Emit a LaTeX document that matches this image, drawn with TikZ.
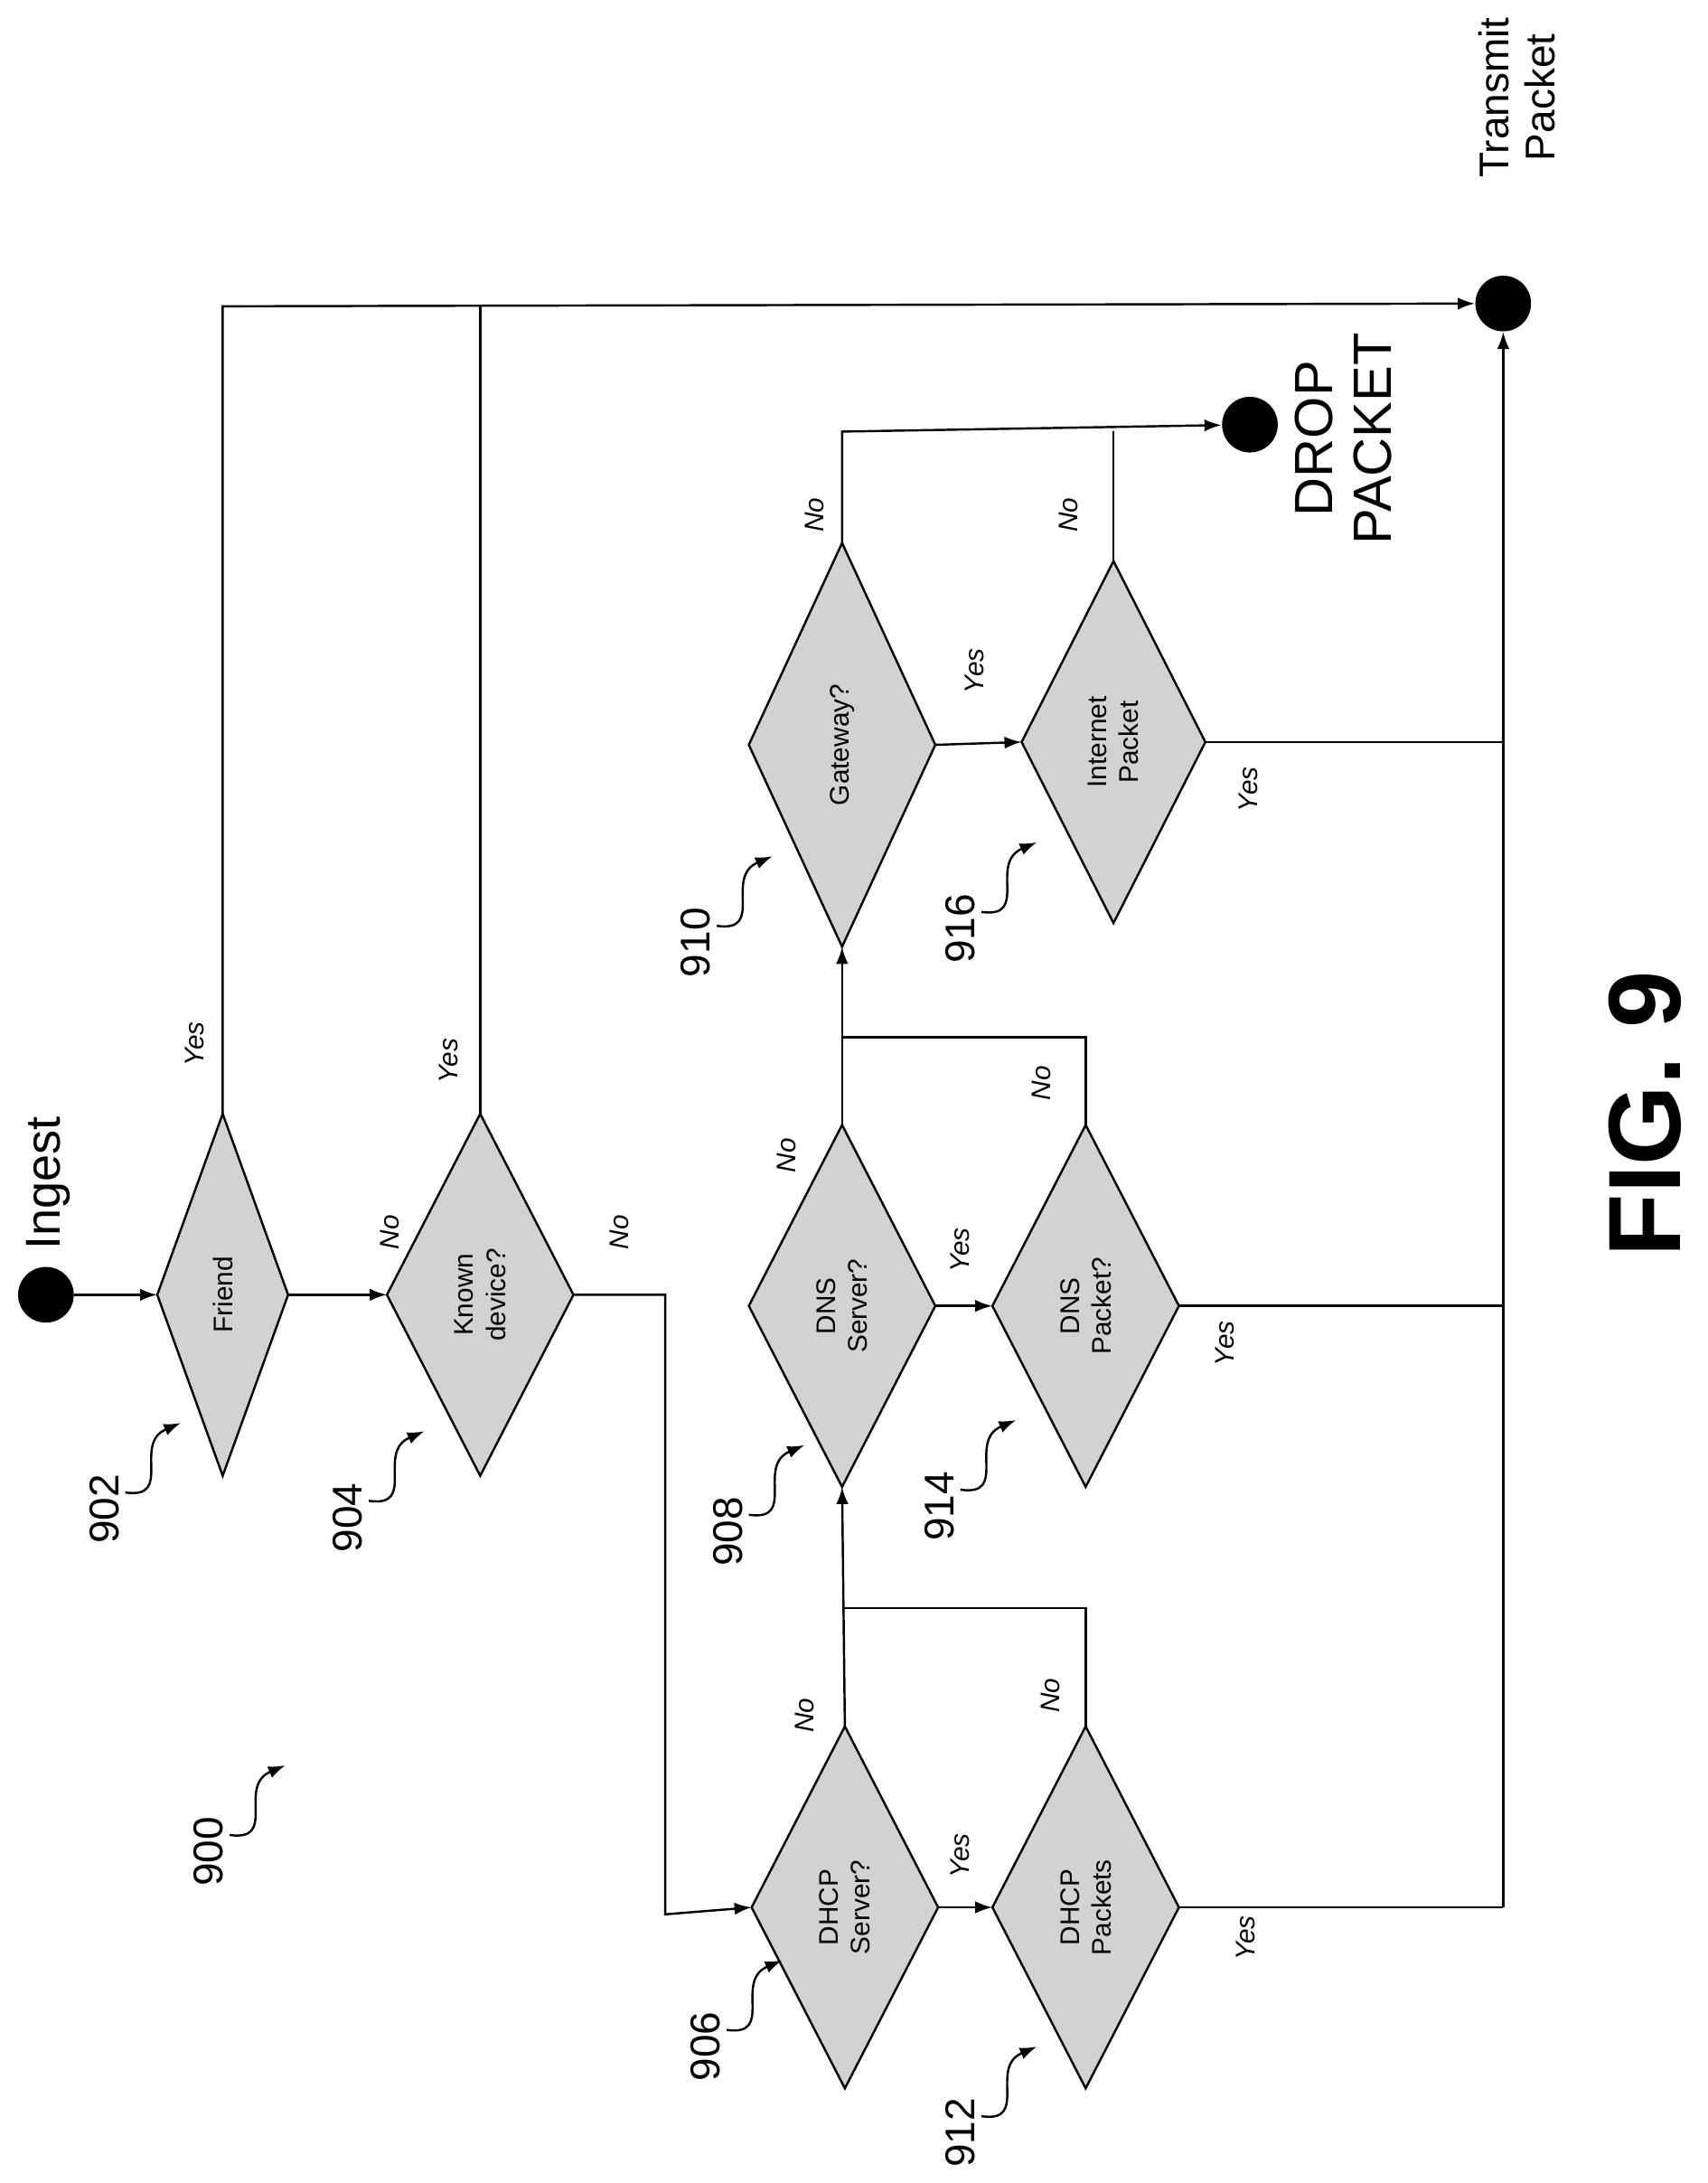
\documentclass[tikz,border=0pt]{standalone}
\usepackage{fontspec}
\setmainfont{Liberation Sans}
\usetikzlibrary{arrows.meta}
\begin{document}
\begin{tikzpicture}[x=0.02cm,y=-0.02cm,
 ln/.style={line width=0.9pt},
 arr/.style={ln,-{Latex[length=7pt,width=5pt]}},
 dia/.style={fill=gray!35,draw=black,line width=0.9pt},
 lbl/.style={rotate=90,font=\itshape\fontsize{11}{12}\selectfont},
 txt/.style={rotate=90,align=center,font=\fontsize{11}{13}\selectfont},
 ref/.style={rotate=90,font=\fontsize{17}{19}\selectfont},
 dot/.style={circle,fill=black,minimum size=0.8cm,inner sep=0pt}]
\useasboundingbox (0,0) rectangle (1227,1568);
\newcommand{\dm}[5]{\draw[dia] (#2-#4,#3) coordinate (#1L) -- (#2,#3-#5) coordinate (#1T) -- (#2+#4,#3) coordinate (#1R) -- (#2,#3+#5) coordinate (#1B) -- cycle;}
\dm{fr}{160}{930}{47}{130}
\dm{kd}{345}{930}{67}{130}
\dm{ds}{607}{1370}{67}{130}
\dm{dp}{780}{1370}{67}{130}
\dm{ns}{605}{938}{67}{130}
\dm{np}{780}{938}{67}{130}
\dm{gw}{605}{535}{67}{145}
\dm{ip}{800}{533}{66}{130}
\node[txt] at (160,930) {Friend};
\node[txt] at (345,930) {Known\\device?};
\node[txt] at (607,1370) {DHCP\\Server?};
\node[txt] at (780,1370) {DHCP\\Packets};
\node[txt] at (605,938) {DNS\\Server?};
\node[txt] at (780,938) {DNS\\Packet?};
\node[txt] at (605,535) {Gateway?};
\node[txt] at (800,533) {Internet\\Packet};
\node[dot] (ing) at (33,930) {};
\node[dot] (drop) at (898,305) {};
\node[dot] (tx) at (1080,218) {};
\node[rotate=90,font=\fontsize{20}{22}\selectfont] (ingt) at (35,850) {Ingest};
\node[rotate=90,align=center,font=\fontsize{17}{19}\selectfont] at (1090,70) {Transmit\\Packet};
\node[rotate=90,align=center,font=\fontsize{22}{24}\selectfont] at (965,315) {DROP\\PACKET};
\node[rotate=90,font=\bfseries\fontsize{42}{46}\selectfont] at (1182,800) {FIG. 9};
\draw[arr] (ing) -- (frL);
\draw[arr] (frR) -- (kdL);
\draw[arr] (frT) -- (160,220) -- (tx);
\draw[ln] (kdT) -- (345,220);
\draw[arr] (kdR) -- (478,930) -- (478,1375) -- (dsL);
\draw[arr] (dsR) -- (dpL);
\draw[arr] (dsT) -- (nsB);
\draw[ln] (dpT) -- (780,1155) -- (606,1155);
\draw[ln] (dpR) -- (1080,1370);
\draw[arr] (nsR) -- (npL);
\draw[arr] (nsT) -- (gwB);
\draw[ln] (npT) -- (780,745) -- (605,745);
\draw[ln] (npR) -- (1080,938);
\draw[arr] (gwR) -- (ipL);
\draw[arr] (gwT) -- (605,310) -- (drop);
\draw[ln] (ipT) -- (800,310);
\draw[ln] (ipR) -- (1080,533);
\draw[arr] (1080,1370) -- (tx);
\node[lbl] at (140,750) {Yes};
\node[lbl] at (322,762) {Yes};
\node[lbl] at (280,885) {No};
\node[lbl] at (445,885) {No};
\node[lbl] at (690,1333) {Yes};
\node[lbl] at (578,1232) {No};
\node[lbl] at (755,1218) {No};
\node[lbl] at (895,1392) {Yes};
\node[lbl] at (690,898) {Yes};
\node[lbl] at (565,830) {No};
\node[lbl] at (748,778) {No};
\node[lbl] at (880,965) {Yes};
\node[lbl] at (700,482) {Yes};
\node[lbl] at (585,370) {No};
\node[lbl] at (768,370) {No};
\node[lbl] at (897,567) {Yes};
\newcommand{\rf}[3]{\node[ref] (r#1) at (#2-55,#3+62) {#1};
 \draw[arr] (#2-40,#3+50) .. controls (#2-5,#3+55) and (#2-35,#3+15) .. (#2,#3);}
\rf{900}{205}{1268}
\rf{902}{130}{1022}
\rf{904}{305}{1028}
\rf{906}{562}{1408}
\rf{912}{745}{1470}
\rf{908}{578}{1038}
\rf{914}{730}{1020}
\rf{910}{555}{615}
\rf{916}{745}{605}
\end{tikzpicture}
\end{document}
